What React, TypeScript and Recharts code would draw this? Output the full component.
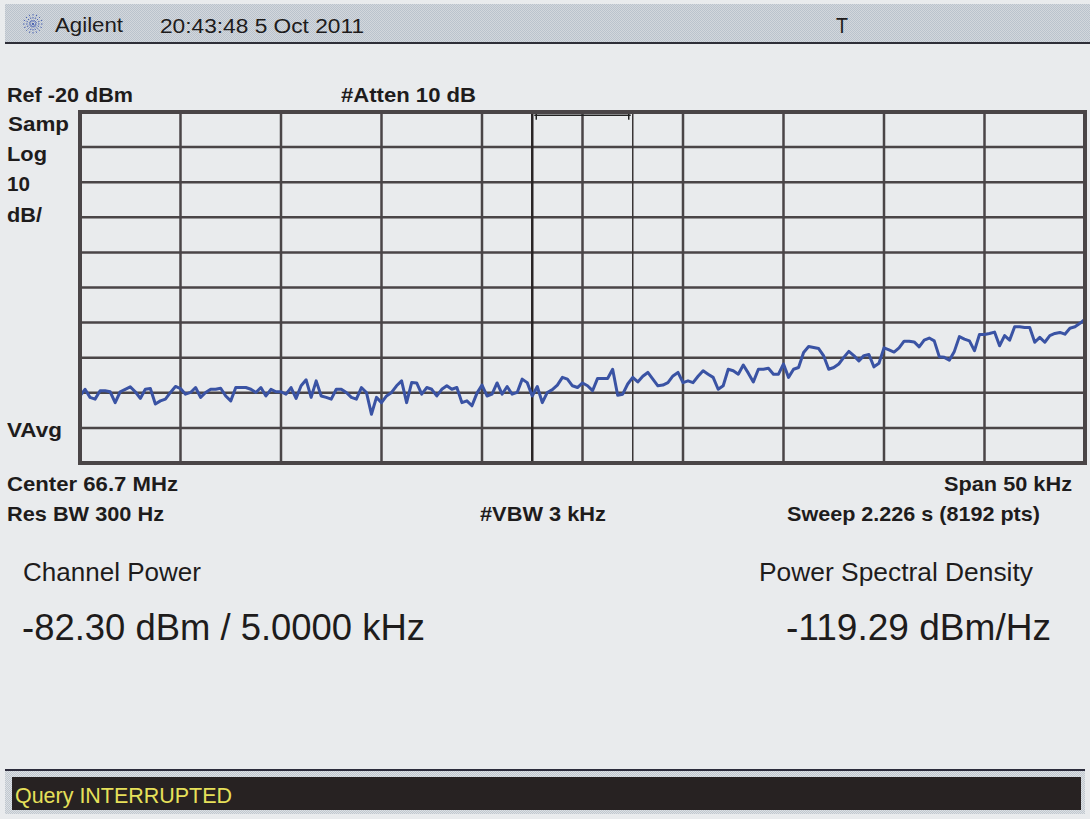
import { LineChart, Line, XAxis, YAxis, CartesianGrid, ReferenceLine } from 'recharts';

// instrument settings
const centerMHz = 66.7;
const spanKHz = 50;
const refLevelDbm = -20;
const dbPerDiv = 10;
const channelBwKHz = 5;

const freqGridKHz = [-25, -20, -15, -10, -5, 0, 5, 10, 15, 20, 25];
const levelGridDbm = [-120, -110, -100, -90, -80, -70, -60, -50, -40, -30, -20];

// trace in 0.25 kHz steps (left to right)
const traceQ1 = [
  -100.9, -99.0, -101.3, -101.8, -99.4, -99.4, -99.7, -102.8, -99.7, -99.0,
  -98.3, -99.7, -101.6, -99.0, -98.8, -103.2, -102.3, -101.8, -99.9, -98.2,
  -98.8, -100.4, -99.9, -98.5, -101.3, -99.9, -99.0, -99.0, -98.7, -100.9,
  -102.3, -98.5, -98.5, -98.5, -99.0, -99.9, -98.5, -100.9, -99.0, -99.7,
  -99.7, -100.4, -98.5, -101.6, -98.0, -96.3, -101.3, -96.6, -100.9, -101.3,
  -101.8,
];
const traceQ2 = [
  -99.0, -99.0, -99.9, -101.3, -101.8, -98.5, -99.9, -106.1, -101.3, -102.8,
  -100.9, -99.9, -98.0, -96.6, -102.8, -97.1, -97.2, -100.4, -98.5, -99.0,
  -100.9, -99.0, -98.0, -99.0, -98.5, -102.8, -102.3, -103.7, -100.1, -97.8,
  -100.9, -100.4, -97.2, -100.4, -98.2, -100.4, -99.9, -96.1, -97.1, -100.9,
  -98.2, -102.8, -99.9, -99.1, -97.8, -95.6, -96.1, -98.0, -98.5, -97.2,
];
const traceQ3 = [
  -98.0, -99.4, -95.9, -95.9, -95.9, -93.3, -100.7, -100.4, -97.5, -95.6,
  -96.9, -95.3, -94.2, -96.1, -98.0, -97.8, -97.1, -95.2, -94.2, -97.1,
  -96.6, -97.1, -95.3, -93.7, -94.7, -95.6, -99.0, -98.0, -93.3, -93.7,
  -94.7, -92.1, -94.4, -96.9, -93.3, -93.3, -93.0, -94.7, -94.7, -91.8,
  -95.6, -93.3, -92.8, -88.5, -86.8, -87.1, -87.4, -89.5, -93.3, -92.8,
];
const traceQ4 = [
  -91.8, -89.9, -88.2, -89.4, -90.9, -89.4, -89.1, -92.6, -91.6, -87.2,
  -87.8, -88.4, -87.2, -85.3, -85.3, -85.5, -86.9, -85.0, -84.4, -85.2,
  -89.7, -89.9, -90.7, -88.2, -84.0, -84.7, -85.2, -88.0, -83.4, -83.4,
  -83.1, -82.7, -86.6, -83.7, -85.0, -81.2, -81.2, -81.4, -81.4, -85.6,
  -84.2, -85.6, -83.7, -83.1, -82.8, -83.3, -81.6, -81.2, -80.2, -79.0,
];

const traceDbm = [...traceQ1, ...traceQ2, ...traceQ3, ...traceQ4];
const stepKHz = spanKHz / (traceDbm.length - 1);
const data = traceDbm.map((dbm, i) => ({ f: -spanKHz / 2 + i * stepKHz, dbm }));

const FONT = '"Liberation Sans", Arial, Helvetica, sans-serif';
const INK = '#1e1c1c';
const GRID = '#4a4547';
const BG = '#e9ebed';
const dither = (a: string, b: string) =>
  `repeating-conic-gradient(${a} 0% 25%, ${b} 0% 50%) 0 0 / 2px 2px`;

type Txt = { t: string; x: number; y: number; w: number; s: number; b?: boolean; c?: string };

const texts: Txt[] = [
  { t: 'Agilent', x: 55, y: 32, w: 68, s: 20 },
  { t: '20:43:48  5 Oct 2011', x: 160, y: 33, w: 204, s: 20 },
  { t: 'T', x: 836, y: 33, w: 12, s: 22 },
  { t: `Ref ${refLevelDbm} dBm`, x: 7, y: 102, w: 126, s: 21, b: true },
  { t: '#Atten 10 dB', x: 341, y: 102, w: 135, s: 21, b: true },
  { t: 'Samp', x: 8, y: 131, w: 61, s: 21, b: true },
  { t: 'Log', x: 7, y: 161, w: 40, s: 21, b: true },
  { t: String(dbPerDiv), x: 7, y: 191, w: 23, s: 21, b: true },
  { t: 'dB/', x: 7, y: 222, w: 35, s: 21, b: true },
  { t: 'VAvg', x: 7, y: 437, w: 55, s: 21, b: true },
  { t: `Center ${centerMHz} MHz`, x: 7, y: 491, w: 171, s: 21, b: true },
  { t: `Span ${spanKHz} kHz`, x: 944, y: 491, w: 128, s: 21, b: true },
  { t: 'Res BW 300 Hz', x: 7, y: 521, w: 157, s: 21, b: true },
  { t: '#VBW 3 kHz', x: 480, y: 521, w: 126, s: 21, b: true },
  { t: 'Sweep 2.226 s (8192 pts)', x: 787, y: 521, w: 253, s: 21, b: true },
  { t: 'Channel Power', x: 23, y: 581, w: 178, s: 26 },
  { t: 'Power Spectral Density', x: 759, y: 581, w: 274, s: 26 },
  { t: '-82.30 dBm / 5.0000 kHz', x: 22, y: 640, w: 403, s: 36 },
  { t: '-119.29 dBm/Hz', x: 786, y: 640, w: 265, s: 36 },
  { t: 'Query INTERRUPTED', x: 15, y: 803, w: 217, s: 22, c: '#e6e05a' },
];

const AgilentLogo = () => (
  <svg width={24} height={24} style={{ position: 'absolute', left: 21, top: 12 }}>
    {[0, 22.5, 45, 67.5, 90, 112.5, 135, 157.5].map((a) => (
      <line
        key={a}
        x1={12 - 10 * Math.cos((a * Math.PI) / 180)}
        y1={12 - 10 * Math.sin((a * Math.PI) / 180)}
        x2={12 + 10 * Math.cos((a * Math.PI) / 180)}
        y2={12 + 10 * Math.sin((a * Math.PI) / 180)}
        stroke="#4b63b3"
        strokeWidth={1}
        strokeDasharray="1.5 1.5"
      />
    ))}
  </svg>
);

export default function App() {
  const half = channelBwKHz / 2;
  return (
    <div style={{ position: 'absolute', left: 0, top: 0, width: 1090, height: 819, background: BG, overflow: 'hidden' }}>
      {/* title bar */}
      <div style={{ position: 'absolute', left: 5, top: 4, width: 1085, height: 38, background: dither('#bac3cd', '#d3d7dc'), borderBottom: '2px solid #2e2e38' }} />
      <AgilentLogo />

      {/* trace area */}
      <div style={{ position: 'absolute', left: 80, top: 112 }}>
        <LineChart width={1005} height={351} data={data} margin={{ top: 0, right: 0, bottom: 0, left: 0 }}>
          <XAxis dataKey="f" type="number" domain={[-spanKHz / 2, spanKHz / 2]} ticks={freqGridKHz} hide />
          <YAxis type="number" domain={[refLevelDbm - 10 * dbPerDiv, refLevelDbm]} ticks={levelGridDbm} hide allowDataOverflow />
          <CartesianGrid stroke={GRID} strokeWidth={2.5} />
          <ReferenceLine x={-half} stroke="#2a2526" strokeWidth={2.5} />
          <ReferenceLine x={half} stroke="#3a3536" strokeWidth={1.5} />
          <ReferenceLine segment={[{ x: -half + 0.1, y: -20.9 }, { x: half - 0.1, y: -20.9 }]} stroke="#222" strokeWidth={1.5} />
          <ReferenceLine segment={[{ x: -half + 0.2, y: -20.3 }, { x: -half + 0.2, y: -22.2 }]} stroke="#222" strokeWidth={1.5} />
          <ReferenceLine segment={[{ x: half - 0.2, y: -20.3 }, { x: half - 0.2, y: -22.2 }]} stroke="#222" strokeWidth={1.5} />
          <Line
            dataKey="dbm"
            type="linear"
            stroke="#3a53a4"
            strokeWidth={3}
            strokeLinejoin="round"
            dot={false}
            isAnimationActive={false}
          />
        </LineChart>
      </div>
      {/* frame */}
      <div style={{ position: 'absolute', left: 78, top: 110, width: 1009, height: 355, boxSizing: 'border-box', border: `4px solid ${GRID}` }} />

      {/* message line */}
      <div style={{ position: 'absolute', left: 5, top: 769, width: 1080, height: 45, boxSizing: 'border-box', borderTop: '2px solid #2c2c3c', background: dither('#c0c8d0', '#dde0e3') }} />
      <div style={{ position: 'absolute', left: 12, top: 777, width: 1069, height: 33, background: '#272222' }} />

      <svg width={1090} height={819} style={{ position: 'absolute', left: 0, top: 0, pointerEvents: 'none' }}>
        {texts.map((d) => (
          <text
            key={d.t}
            x={d.x}
            y={d.y}
            fontFamily={FONT}
            fontSize={d.s}
            fontWeight={d.b ? 'bold' : 'normal'}
            fill={d.c ?? INK}
            textLength={d.w}
            lengthAdjust="spacingAndGlyphs"
          >
            {d.t}
          </text>
        ))}
      </svg>
    </div>
  );
}
